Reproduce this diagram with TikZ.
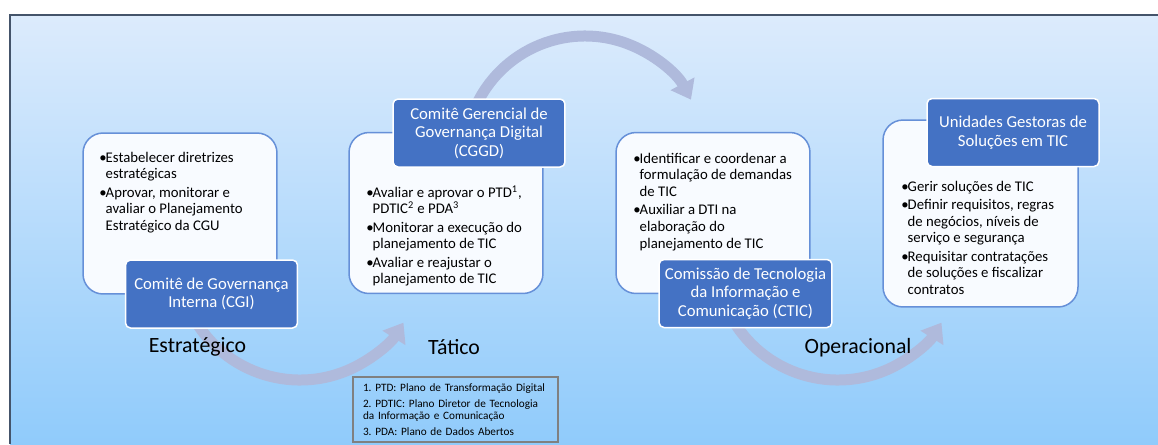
\documentclass[tikz,border=0pt]{standalone}
\usepackage{fontspec}
\setmainfont{Carlito}
\usetikzlibrary{positioning,calc,arrows.meta}
\frenchspacing

\definecolor{bgtop}{HTML}{DCEBFC}
\definecolor{bgbot}{HTML}{90CBFB}
\definecolor{framec}{HTML}{44546A}
\definecolor{panelc}{HTML}{6690D8}
\definecolor{panelf}{HTML}{F8FBFF}
\definecolor{tagc}{HTML}{4472C4}
\definecolor{flowc}{HTML}{AFBADC}
\definecolor{notec}{HTML}{808080}

\begin{document}
\begin{tikzpicture}[x=0.02cm, y=0.02cm,
    panel/.style={draw=panelc, line width=0.03cm, fill=panelf, rounded corners=0.4cm,
                  minimum width=3.88cm, minimum height=3.22cm},
    tag/.style={draw=white, line width=0.03cm, fill=tagc, rounded corners=0.1cm,
                text=white, minimum width=3.44cm, minimum height=1.36cm, align=center,
                font=\fontsize{9.5}{10.5}\selectfont},
    bullets/.style={anchor=base west, inner sep=0pt, font=\fontsize{8.4}{9.5}\selectfont},
    level/.style={font=\fontsize{12.4}{14}\selectfont},
    flow/.style={draw=flowc, line width=0.22cm, -{Triangle[length=0.36cm, width=0.52cm]}}]
  \useasboundingbox (0,0) rectangle (1158,-444);
  % background
  \fill[top color=bgtop, bottom color=bgbot] (10,-15) rectangle (1158,-444);
  \draw[framec, line width=0.04cm] (10,-444) -- (10,-15) -- (1158,-15);

  % flow arcs (behind the boxes)
  \coordinate (f1) at ($(300,-258)+(205:122)$);
  \coordinate (f2) at ($(585,-156)+(160:120)$);
  \coordinate (f3) at ($(838,-258)+(205:122)$);
  \draw[flow] (f1) arc[start angle=205, end angle=328, radius=122];
  \draw[flow] (f2) arc[start angle=160, end angle=28, radius=120];
  \draw[flow] (f3) arc[start angle=205, end angle=328, radius=122];

  % panels
  \node[panel] (p1) at (180,-213.5) {};
  \node[panel] (p2) at (446,-213) {};
  \node[panel] (p3) at (713,-213) {};
  \node[panel, minimum width=3.9cm, minimum height=3.74cm] (p4) at (980.5,-213.5) {};

  % committees
  \node[tag] (t1) at (211.5,-294) {Comitê de Governança\\Interna (CGI)};
  \node[tag] (t2) at (479,-133) {Comitê Gerencial de\\Governança Digital\\(CGGD)};
  \node[tag] (t3) at (745.5,-293.5) {Comissão de Tecnologia\\da Informação e\\Comunicação (CTIC)};
  \node[tag] (t4) at (1013,-132.5) {Unidades Gestoras de\\Soluções em TIC};

  % duties
  \node[bullets] (b1) at (99,-162) {\begin{tabular}[t]{@{}l@{\hspace{-0.02cm}}l@{}}
      \textbullet & Estabelecer diretrizes\\ & estratégicas\\[1pt]
      \textbullet & Aprovar, monitorar e\\ & avaliar o Planejamento\\ & Estratégico da CGU
    \end{tabular}};
  \node[bullets] (b2) at (366,-197) {\begin{tabular}[t]{@{}l@{\hspace{-0.02cm}}l@{}}
      \textbullet & Avaliar e aprovar o PTD\textsuperscript{1},\\ & PDTIC\textsuperscript{2} e PDA\textsuperscript{3}\\[1pt]
      \textbullet & Monitorar a execução do\\ & planejamento de TIC\\[1pt]
      \textbullet & Avaliar e reajustar o\\ & planejamento de TIC
    \end{tabular}};
  \node[bullets] (b3) at (633,-163) {\begin{tabular}[t]{@{}l@{\hspace{-0.02cm}}l@{}}
      \textbullet & Identificar e coordenar a\\ & formulação de demandas\\ & de TIC\\[1pt]
      \textbullet & Auxiliar a DTI na\\ & elaboração do\\ & planejamento de TIC
    \end{tabular}};
  \node[bullets] (b4) at (901,-191) {\begin{tabular}[t]{@{}l@{\hspace{-0.02cm}}l@{}}
      \textbullet & Gerir soluções de TIC\\[1pt]
      \textbullet & Definir requisitos, regras\\ & de negócios, níveis de\\ & serviço e segurança\\[1pt]
      \textbullet & Requisitar contratações\\ & de soluções e fiscalizar\\ & contratos
    \end{tabular}};

  % levels
  \node[level] (l1) at (197.5,-347) {Estratégico};
  \node[level] (l2) at (454,-347) {Tático};
  \node[level] (l3) at (858,-348) {Operacional};

  % footnotes
  \node[draw=notec, line width=0.03cm, minimum width=4.1cm, minimum height=1.3cm,
        text width=3.7cm, inner xsep=0.2cm, align=left,
        font=\fontsize{6.4}{6.9}\selectfont] (fn) at (455.5,-409.5)
    {1. PTD: Plano de Transformação Digital\\[2.3pt]2. PDTIC: Plano Diretor de Tecnologia\\da Informação e Comunicação\\[2.3pt]3. PDA: Plano de Dados Abertos};
\end{tikzpicture}
\end{document}
